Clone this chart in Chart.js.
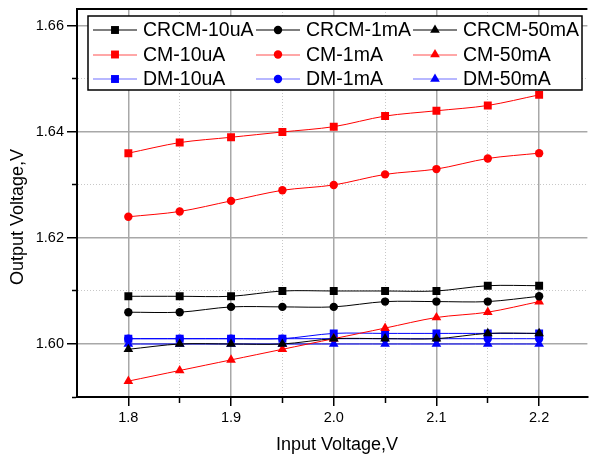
<!DOCTYPE html>
<html>
<head>
<meta charset="utf-8">
<script src="https://cdn.jsdelivr.net/npm/chart.js@4/dist/chart.umd.min.js"></script>
<style>
  html, body { margin: 0; padding: 0; background: #fff; overflow: hidden; }
  #wrap { width: 593px; height: 455px; }
</style>
</head>
<body>
<div id="wrap"><canvas id="lineChart" width="593" height="455"></canvas></div>
<script>
let inputVoltage = [1.8, 1.85, 1.9, 1.95, 2.0, 2.05, 2.1, 2.15, 2.2];

let crcm10uA = [1.609, 1.609, 1.609, 1.610, 1.610, 1.610, 1.610, 1.611, 1.611];
let crcm1mA = [1.606, 1.606, 1.607, 1.607, 1.607, 1.608, 1.608, 1.608, 1.609];
let crcm50mA = [1.599, 1.600, 1.600, 1.600, 1.601, 1.601, 1.601, 1.602, 1.602];
let cm10uA = [1.636, 1.638, 1.639, 1.640, 1.641, 1.643, 1.644, 1.645, 1.647];
let cm1mA = [1.624, 1.625, 1.627, 1.629, 1.630, 1.632, 1.633, 1.635, 1.636];
let cm50mA = [1.593, 1.595, 1.597, 1.599, 1.601, 1.603, 1.605, 1.606, 1.608];
let dm10uA = [1.601, 1.601, 1.601, 1.601, 1.602, 1.602, 1.602, 1.602, 1.602];
let dm1mA = [1.601, 1.601, 1.601, 1.601, 1.601, 1.601, 1.601, 1.601, 1.601];
let dm50mA = [1.600, 1.600, 1.600, 1.600, 1.600, 1.600, 1.600, 1.600, 1.600];

let seriesLabels = [
  "CRCM-10uA", "CRCM-1mA", "CRCM-50mA",
  "CM-10uA", "CM-1mA", "CM-50mA",
  "DM-10uA", "DM-1mA", "DM-50mA",
];
let seriesValues = [crcm10uA, crcm1mA, crcm50mA, cm10uA, cm1mA, cm50mA, dm10uA, dm1mA, dm50mA];

let xTicks = [1.8, 1.85, 1.9, 1.95, 2.0, 2.05, 2.1, 2.15, 2.2];
let xMajor = [1.8, 1.9, 2.0, 2.1, 2.2];
let yTicks = [1.59, 1.60, 1.61, 1.62, 1.63, 1.64, 1.65, 1.66];
let yMajor = [1.60, 1.62, 1.64, 1.66];

let colors = ["#000000", "#000000", "#000000", "#ff0000", "#ff0000", "#ff0000", "#0000ff", "#0000ff", "#0000ff"];
let legendLineColors = ["#000000", "#000000", "#000000", "#ff5050", "#ff5050", "#ff5050", "#7070ff", "#7070ff", "#7070ff"];
let styles = ["rect", "circle", "triangle"];
let radii = { rect: 5.6, circle: 4.2, triangle: 5.6 };
let font = "'Liberation Sans', Arial, sans-serif";

function isMajor(list, v) {
  return list.some((m) => Math.abs(m - v) < 1e-6);
}

function getDatasets() {
  let datasets = [];
  for (let i = 0; i < seriesValues.length; i++) {
    let style = styles[i % 3];
    datasets.push({
      label: seriesLabels[i],
      data: inputVoltage.map((x, j) => ({ x: x, y: seriesValues[i][j] })),
      borderColor: colors[i],
      backgroundColor: colors[i],
      borderWidth: 1,
      pointStyle: style,
      pointRadius: radii[style],
      pointBorderWidth: 0,
      pointBackgroundColor: colors[i],
      tension: 0.3,
    });
  }
  return datasets;
}

// top frame, axis titles and Origin-like legend
let decorations = {
  id: "decorations",
  afterDraw(chart) {
    let ctx = chart.ctx;
    let xs = chart.scales.x;
    let ys = chart.scales.y;
    ctx.save();
    ctx.fillStyle = "#000000";
    ctx.fillRect(ys.right - 1, ys.top - 1, xs.right - ys.right + 1, 2);

    ctx.font = "18px " + font;
    ctx.textAlign = "center";
    ctx.textBaseline = "alphabetic";
    ctx.fillText("Input Voltage,V", 337, 450);
    ctx.save();
    ctx.translate(23, 217);
    ctx.rotate(-Math.PI / 2);
    ctx.fillText("Output Voltage,V", 0, 0);
    ctx.restore();

    // legend box
    let box = { x: 88, y: 16, w: 494, h: 74 };
    ctx.fillStyle = "#000";
    ctx.fillRect(box.x - 0.75, box.y - 0.75, box.w + 1.5, box.h + 1.5);
    ctx.fillStyle = "#fff";
    ctx.fillRect(box.x + 0.75, box.y + 0.75, box.w - 1.5, box.h - 1.5);

    let colX = [115, 278, 435];
    let rowY = [30, 54.5, 79];
    ctx.font = "19.5px " + font;
    ctx.textAlign = "left";
    ctx.textBaseline = "middle";
    chart.data.datasets.forEach((ds, i) => {
      let cx = colX[i % 3];
      let cy = rowY[Math.floor(i / 3)];
      ctx.fillStyle = legendLineColors[i];
      ctx.fillRect(cx - 22, Math.round(cy) - 0.5, 44, 1);
      ctx.fillStyle = ds.backgroundColor;
      ctx.strokeStyle = ds.backgroundColor;
      Chart.helpers.drawPoint(ctx, { pointStyle: ds.pointStyle, radius: ds.pointRadius, rotation: 0, borderWidth: 0 }, cx, cy);
      ctx.fillStyle = "#000";
      ctx.fillText(ds.label, cx + 28, cy + 1);
    });
    ctx.restore();
  },
};

function noPadding(scale) {
  scale.paddingTop = 0;
  scale.paddingBottom = 0;
  scale.paddingLeft = 0;
  scale.paddingRight = 0;
}

function createChart() {
  new Chart(document.getElementById("lineChart"), {
    type: "line",
    data: { datasets: getDatasets() },
    plugins: [decorations],
    options: {
      responsive: false,
      animation: false,
      layout: { padding: { top: 9, left: 0, right: 0, bottom: 0 } },
      plugins: {
        legend: { display: false },
        tooltip: { enabled: false },
      },
      scales: {
        x: {
          type: "linear",
          min: 1.75,
          max: 2.247,
          afterFit: (scale) => { scale.height = 58; noPadding(scale); },
          afterBuildTicks: (scale) => { scale.ticks = xTicks.map((v) => ({ value: v })); },
          ticks: {
            padding: 3,
            color: "#000",
            font: { family: font, size: 14.5 },
            maxRotation: 0,
            autoSkip: false,
            callback: (v) => (isMajor(xMajor, v) ? v.toFixed(1) : ""),
          },
          grid: {
            drawTicks: true,
            tickLength: 9,
            tickColor: "#000",
            tickWidth: 1.5,
            tickBorderDash: (c) => (c.tick && isMajor(xMajor, c.tick.value) ? [9, 0] : [5, 100]),
            color: (c) => (c.tick && isMajor(xMajor, c.tick.value) ? "#a8a8a8" : "#c8c8c8"),
            lineWidth: (c) => (c.tick && isMajor(xMajor, c.tick.value) ? 1.5 : 1),
          },
          border: {
            color: "#000",
            width: 2,
            dash: (c) => (c.tick && isMajor(xMajor, c.tick.value) ? [] : [1, 2]),
          },
        },
        y: {
          min: 1.59,
          max: 1.6632,
          afterFit: (scale) => { scale.width = 77; noPadding(scale); },
          afterBuildTicks: (scale) => { scale.ticks = yTicks.map((v) => ({ value: v })); },
          ticks: {
            padding: 3,
            color: "#000",
            font: { family: font, size: 14.5 },
            autoSkip: false,
            callback: (v) => (isMajor(yMajor, v) ? v.toFixed(2) : ""),
          },
          grid: {
            drawTicks: true,
            tickLength: 10,
            tickColor: "#000",
            tickWidth: 1.5,
            tickBorderDash: (c) => (c.tick && isMajor(yMajor, c.tick.value) ? [10, 0] : [0, 5, 5, 100]),
            color: (c) => (c.tick && isMajor(yMajor, c.tick.value) ? "#a8a8a8" : "#c8c8c8"),
            lineWidth: (c) => (c.tick && isMajor(yMajor, c.tick.value) ? 1.5 : 1),
          },
          border: {
            color: "#000",
            width: 2,
            dash: (c) => (c.tick && isMajor(yMajor, c.tick.value) ? [] : [1, 2]),
          },
        },
      },
    },
  });
}

createChart();
</script>
</body>
</html>
